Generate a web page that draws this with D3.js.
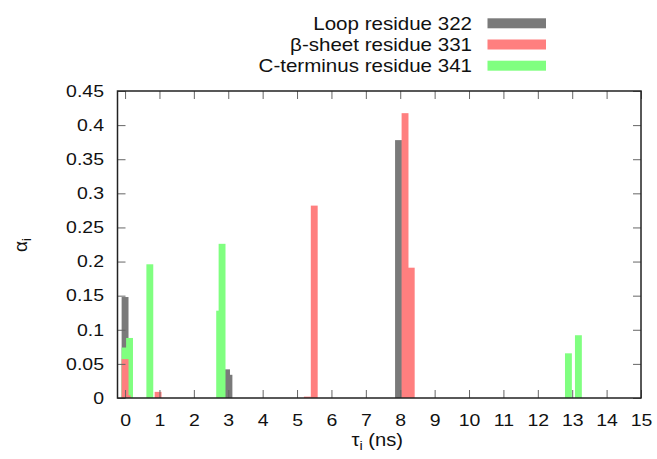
<!DOCTYPE html>
<html>
<head>
<meta charset="utf-8">
<script src="https://cdn.jsdelivr.net/npm/d3@7"></script>
<style>
  body { margin: 0; background: #fff; }
  text { font-family: "Liberation Sans", Arial, sans-serif; fill: #111; }
</style>
</head>
<body>
<svg id="plot" width="657" height="459"></svg>
<script>
// series: tau (ns) and alpha for each residue
const seriesNames = ["Loop residue 322", "\u03b2-sheet residue 331", "C-terminus residue 341"];
const seriesColors = ["#7a7a7a", "#ff7f7f", "#80ff80"];

const loopTau = [0.0, 2.95, 3.02, 7.95];
const loopAlpha = [0.148, 0.042, 0.034, 0.378];

const sheetTau = [0.0, 0.06, 0.96, 5.3, 5.5, 8.14, 8.32];
const sheetAlpha = [0.057, 0.004, 0.009, 0.002, 0.282, 0.4175, 0.191];

const ctermTau = [0.0, 0.13, 0.72, 2.75, 2.82, 12.89, 13.18];
const ctermAlpha = [0.074, 0.088, 0.196, 0.128, 0.226, 0.0655, 0.092];

const xTicks = d3.range(0, 16, 1);
const yTicks = [0, 0.05, 0.1, 0.15, 0.2, 0.25, 0.3, 0.35, 0.4, 0.45];
const boxWidth = 0.2;

// the reference glyphs are a bit wider than Liberation Sans
function stretch(sel, k) {
    sel.each(function () {
        let w = this.getComputedTextLength();
        d3.select(this).attr("textLength", w * k).attr("lengthAdjust", "spacingAndGlyphs");
    });
}

function init() {
    let svg = d3.select('#plot');

    let margin = {top: 91, right: 16, bottom: 61, left: 117.5},
        width = +svg.attr('width') - margin.left - margin.right,
        height = +svg.attr('height') - margin.top - margin.bottom;

    let g = svg.append("g")
        .attr('transform', 'translate(' + margin.left + ',' + margin.top + ')');

    let x = d3.scaleLinear().domain([-0.22, 15]).range([0, width]);
    let y = d3.scaleLinear().domain([0, 0.45]).range([height, 0]);

    // draw order: gray, green, red (red sits on top where they overlap)
    let layers = [
        {tau: loopTau, alpha: loopAlpha, color: seriesColors[0]},
        {tau: ctermTau, alpha: ctermAlpha, color: seriesColors[2]},
        {tau: sheetTau, alpha: sheetAlpha, color: seriesColors[1]}
    ];

    let bars = g.append("g").attr("clip-path", "url(#clip)");
    svg.append("clipPath").attr("id", "clip").append("rect")
        .attr("x", 0).attr("y", 0).attr("width", width).attr("height", height);

    layers.forEach(function (s) {
        let pts = s.tau.map(function (t, i) { return {tau: t, alpha: s.alpha[i]}; });
        bars.append("g").selectAll("rect")
            .data(pts)
            .enter().append("rect")
            .attr("x", function (d) { return x(d.tau - boxWidth / 2); })
            .attr("y", function (d) { return y(d.alpha); })
            .attr("width", x(boxWidth) - x(0))
            .attr("height", function (d) { return height - y(d.alpha); })
            .style("fill", s.color);
    });

    function styleAxis(ax) {
        ax.select(".domain").remove();
        ax.selectAll(".tick line").attr("stroke", "#666").attr("stroke-width", 1);
        ax.selectAll(".tick text").style("font-size", "16.5px").attr("fill", "#111");
    }

    g.append("g")
        .attr("transform", "translate(0," + height + ")")
        .call(d3.axisBottom(x).tickValues(xTicks).tickSize(-8).tickPadding(16).tickFormat(d3.format("d")))
        .call(styleAxis)
        .call(function (ax) { stretch(ax.selectAll(".tick text"), 1.18); });

    g.append("g")
        .call(d3.axisTop(x).tickValues(xTicks).tickSize(-8).tickFormat(""))
        .call(styleAxis);

    g.append("g")
        .call(d3.axisLeft(y).tickValues(yTicks).tickSize(-8).tickPadding(13.5)
            .tickFormat(function (d) { return d === 0 ? "0" : String(+d.toFixed(2)); }))
        .call(styleAxis)
        .call(function (ax) { stretch(ax.selectAll(".tick text"), 1.18); });

    g.append("g")
        .attr("transform", "translate(" + width + ",0)")
        .call(d3.axisRight(y).tickValues(yTicks).tickSize(-8).tickFormat(""))
        .call(styleAxis);

    g.append("rect")
        .attr("width", width).attr("height", height)
        .attr("fill", "none").attr("stroke", "#222").attr("stroke-width", 1.5);

    // axis titles
    let xt = svg.append("text")
        .attr("x", margin.left + width / 2 - 2).attr("y", 446)
        .attr("text-anchor", "middle").style("font-size", "18px");
    xt.append("tspan").text("\u03c4");
    xt.append("tspan").attr("dy", 4).style("font-size", "13px").text("i");
    xt.append("tspan").attr("dy", -4).text(" (ns)");
    stretch(xt, 1.12);

    let yt = svg.append("text")
        .attr("transform", "translate(27,245) rotate(-90)")
        .attr("text-anchor", "middle").style("font-size", "19px");
    yt.append("tspan").text("\u03b1");
    yt.append("tspan").attr("dy", 4).style("font-size", "13px").text("i");

    // legend
    let legend = svg.append("g");
    seriesNames.forEach(function (name, i) {
        let cy = 23.3 + i * 21.2;
        let t = legend.append("text")
            .attr("x", 472).attr("y", cy + 6.5)
            .attr("text-anchor", "end").style("font-size", "18.5px")
            .text(name);
        stretch(t, 1.11);
        legend.append("rect")
            .attr("x", 487.5).attr("y", cy - 5)
            .attr("width", 58.5).attr("height", 10)
            .style("fill", seriesColors[i]);
    });
}

init();
</script>
</body>
</html>
